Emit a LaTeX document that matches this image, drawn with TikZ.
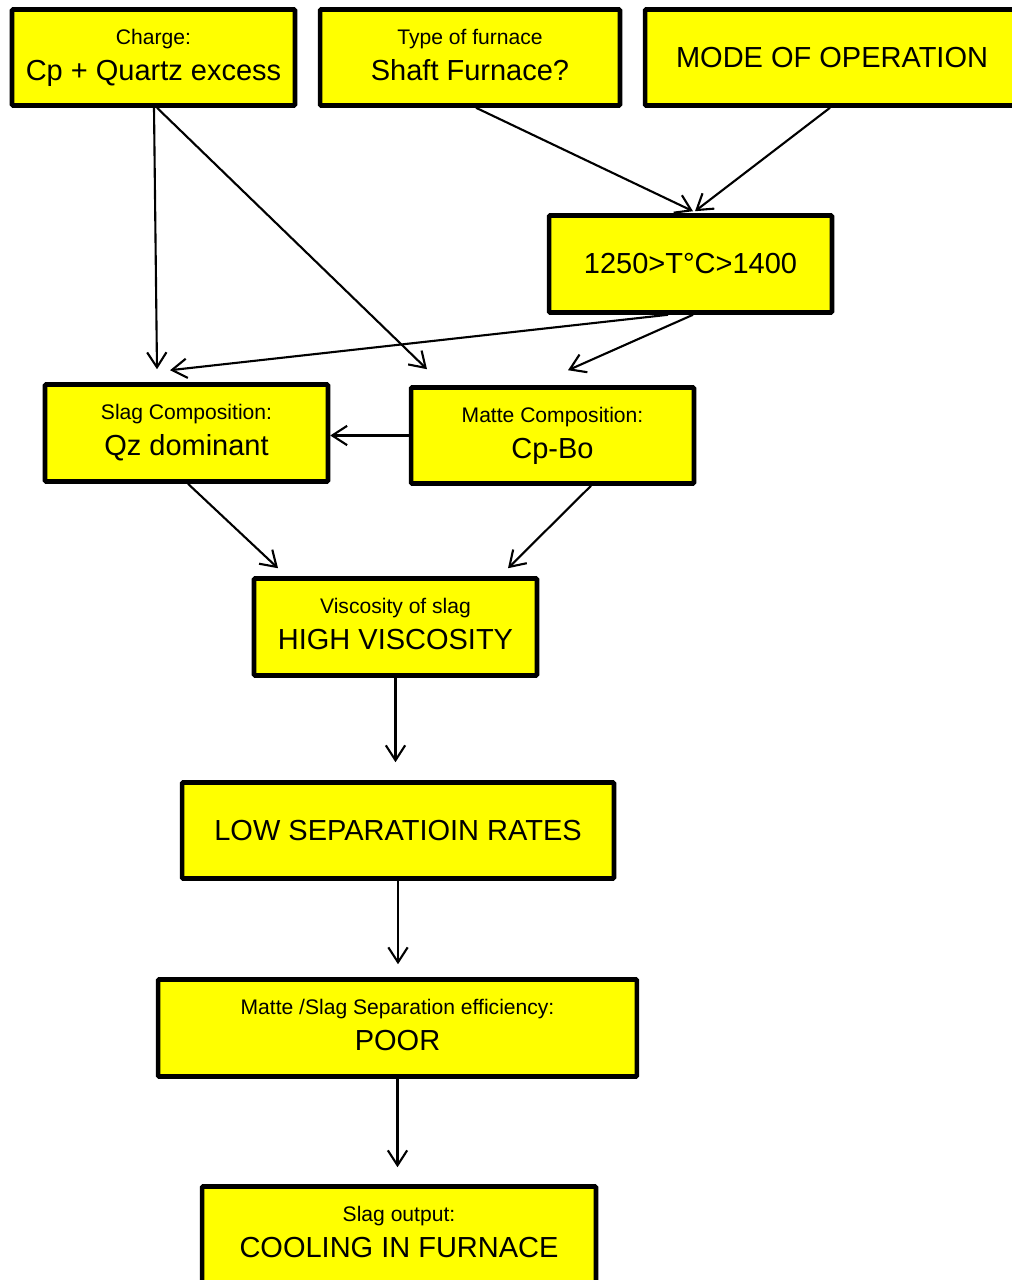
\documentclass[tikz,border=0pt]{standalone}
\usepackage{fontspec}
\setmainfont{Liberation Sans}
\usetikzlibrary{calc,arrows.meta}
\definecolor{boxfill}{HTML}{FFFF00}
\tikzset{
  box/.style={draw=black, fill=boxfill, line width=2.6pt, rounded corners=0.6pt,
    inner sep=0pt, align=center, font=\fontsize{16.5}{20.5}\selectfont},
  flow/.style={draw=black, line width=1.2pt, -{Straight Barb[length=8.5pt,width=11pt]}},
}
% small heading over a large value
\newcommand{\twoline}[2]{{\fontsize{12}{14}\selectfont #1}\\#2\vphantom{p}}

\begin{document}
\begin{tikzpicture}[x=0.02cm,y=-0.02cm]
  \useasboundingbox (0,0) rectangle (1011,1280);
  % inputs
  \node[box,minimum width=5.66cm,minimum height=1.92cm] (charge) at (153.5,57.5)
    {\twoline{Charge:}{Cp + Quartz excess}};
  \node[box,minimum width=6cm,minimum height=1.92cm] (furnace) at (470,57.5)
    {\twoline{Type of furnace}{Shaft Furnace?}};
  \node[box,minimum width=7.48cm,minimum height=1.92cm] (mode) at (832,57.5)
    {MODE OF OPERATION};
  \node[box,minimum width=5.66cm,minimum height=1.94cm] (temp) at (690.5,264)
    {1250>T°C>1400};
  % compositions
  \node[box,minimum width=5.66cm,minimum height=1.94cm] (slag) at (186.5,433)
    {\twoline{Slag Composition:}{Qz dominant}};
  \node[box,minimum width=5.66cm,minimum height=1.92cm] (matte) at (552.5,435.5)
    {\twoline{Matte Composition:}{Cp-Bo}};
  % chain down to the output
  \node[box,minimum width=5.66cm,minimum height=1.94cm] (visc) at (395.5,627)
    {\twoline{Viscosity of slag}{HIGH VISCOSITY}};
  \node[box,minimum width=8.64cm,minimum height=1.92cm] (low) at (398,830.5)
    {LOW SEPARATIOIN RATES};
  \node[box,minimum width=9.58cm,minimum height=1.94cm] (eff) at (397.5,1028)
    {\twoline{Matte /Slag Separation efficiency:}{POOR}};
  \node[box,minimum width=7.88cm,minimum height=1.94cm] (out) at (399,1235)
    {\twoline{Slag output:}{COOLING IN FURNACE}};

  \draw[flow] ($(charge.south)+(0.5,0)$) -- ($(slag.north)+(-29.5,-13)$);
  \draw[flow] ($(charge.south)+(3.5,0)$) -- ($(matte.north)+(-125.5,-16)$);
  \draw[flow] ($(furnace.south)+(6,0)$) -- ($(temp.north)+(2.5,-2)$);
  \draw[flow] ($(mode.south)+(-2,0)$) -- ($(temp.north)+(4.5,-2)$);
  \draw[flow] ($(temp.south)+(-22.5,0)$) -- ($(slag.north)+(-16.5,-12)$);
  \draw[flow] ($(temp.south)+(2.5,0)$) -- ($(matte.north)+(15.5,-15)$);
  \draw[flow] (matte.west) -- (matte.west -| slag.east);
  \draw[flow] ($(slag.south)+(1.5,0)$) -- ($(visc.north)+(-117.5,-8)$);
  \draw[flow] ($(matte.south)+(38.5,0)$) -- ($(visc.north)+(112.5,-8)$);
  \draw[flow] (visc.south) -- ($(visc.south |- low.north)+(0,-18)$);
  \draw[flow] (low.south) -- ($(low.north |- eff.north)+(0,-13)$);
  \draw[flow] (eff.south) -- ($(eff.south |- out.north)+(0,-17)$);
\end{tikzpicture}
\end{document}
